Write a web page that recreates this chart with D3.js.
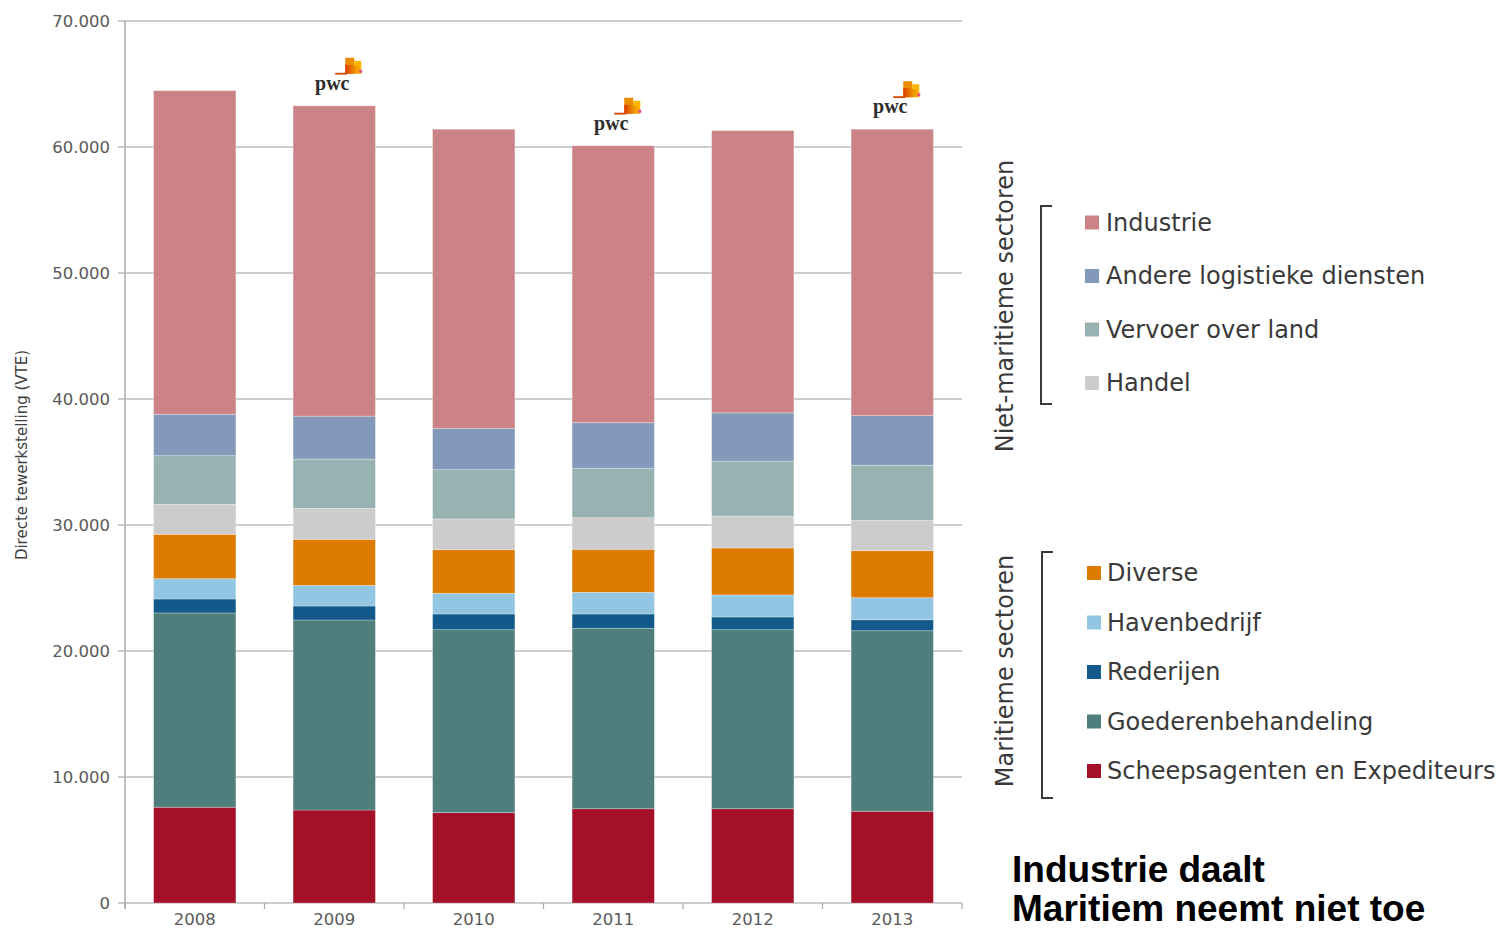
<!DOCTYPE html>
<html>
<head>
<meta charset="utf-8">
<script src="https://cdn.jsdelivr.net/npm/d3@7"></script>
<style>
  html, body { margin: 0; padding: 0; background: #ffffff; }
  svg { display: block; }
</style>
</head>
<body>
<svg id="chart" width="1505" height="929"></svg>
<script>
// ---------- DATA ----------
const years = ["2008", "2009", "2010", "2011", "2012", "2013"];
const scheepsagenten      = [7600, 7380, 7170, 7480, 7480, 7280];
const goederenbehandeling = [15420, 15080, 14520, 14320, 14210, 14330];
const rederijen           = [1110, 1110, 1250, 1140, 1010, 870];
const havenbedrijf        = [1610, 1640, 1640, 1720, 1750, 1750];
const diverse             = [3520, 3650, 3460, 3410, 3730, 3730];
const handel              = [2380, 2460, 2440, 2510, 2520, 2410];
const vervoerOverLand     = [3860, 3910, 3910, 3920, 4370, 4370];
const andereLogistiek     = [3290, 3410, 3290, 3620, 3830, 3940];
const industrie           = [25680, 24630, 23730, 21980, 22400, 22730];

const yTicks = [0, 10000, 20000, 30000, 40000, 50000, 60000, 70000];
const yTickLabels = ["0", "10.000", "20.000", "30.000", "40.000", "50.000", "60.000", "70.000"];

// series, bottom to top of stack
const seriesNames = ["Scheepsagenten en Expediteurs", "Goederenbehandeling", "Rederijen", "Havenbedrijf",
                     "Diverse", "Handel", "Vervoer over land", "Andere logistieke diensten", "Industrie"];
const seriesValues = [scheepsagenten, goederenbehandeling, rederijen, havenbedrijf,
                      diverse, handel, vervoerOverLand, andereLogistiek, industrie];
const seriesColors = ["#a31028", "#4e7f7c", "#135a8a", "#92c6e2",
                      "#dc7b00", "#cccccc", "#98b2b1", "#8499b9", "#cc8387"];

const nonMaritimeLegend = ["Industrie", "Andere logistieke diensten", "Vervoer over land", "Handel"];
const maritimeLegend = ["Diverse", "Havenbedrijf", "Rederijen", "Goederenbehandeling", "Scheepsagenten en Expediteurs"];
const pwcYears = ["2009", "2011", "2013"];

const yAxisTitle = "Directe tewerkstelling (VTE)";
const groupLabels = ["Niet-maritieme sectoren", "Maritieme sectoren"];
const headline = ["Industrie daalt", "Maritiem neemt niet toe"];

// ---------- BUILD ----------
const table = years.map((yr, i) => {
  const row = { year: yr };
  seriesNames.forEach((n, k) => row[n] = seriesValues[k][i]);
  return row;
});
const stacked = d3.stack().keys(seriesNames)(table);
const colorOf = d3.scaleOrdinal().domain(seriesNames).range(seriesColors);

const svg = d3.select("#chart");
const plotLeft = 125, plotRight = 962, plotTop = 21, plotBottom = 903;

const x = d3.scaleBand().domain(years).range([plotLeft, plotRight]).paddingInner(0.41).paddingOuter(0.205);
const y = d3.scaleLinear().domain([0, 70000]).range([plotBottom, plotTop]);

const tickFont = "DejaVu Sans, sans-serif";

// gridlines
svg.append("g").selectAll("line").data(yTicks).join("line")
  .attr("x1", plotLeft - 7).attr("x2", plotRight)
  .attr("y1", d => y(d)).attr("y2", d => y(d))
  .attr("stroke", "#bdbdbd").attr("stroke-width", 1.5);

// y axis line
svg.append("line").attr("x1", plotLeft).attr("x2", plotLeft).attr("y1", y(70000)).attr("y2", y(0) + 6)
  .attr("stroke", "#aaaaaa").attr("stroke-width", 1.5);

// y tick labels
svg.append("g").selectAll("text").data(yTicks).join("text")
  .attr("x", plotLeft - 15).attr("y", d => y(d))
  .attr("text-anchor", "end").attr("dominant-baseline", "central")
  .attr("font-family", tickFont).attr("font-size", 16.5).attr("fill", "#595959")
  .text((d, i) => yTickLabels[i]);

// x axis ticks at band boundaries
const step = x.step();
const boundaries = d3.range(years.length + 1).map(i => plotLeft + i * step);
svg.append("g").selectAll("line").data(boundaries).join("line")
  .attr("x1", d => d).attr("x2", d => d).attr("y1", y(0)).attr("y2", y(0) + 6)
  .attr("stroke", "#aaaaaa").attr("stroke-width", 1.2);

// x labels
svg.append("g").selectAll("text").data(years).join("text")
  .attr("x", d => x(d) + x.bandwidth() / 2).attr("y", 925)
  .attr("text-anchor", "middle")
  .attr("font-family", tickFont).attr("font-size", 16.5).attr("fill", "#595959")
  .text(d => d);

// bars
svg.append("g").selectAll("g").data(stacked).join("g")
  .attr("fill", d => colorOf(d.key))
  .selectAll("rect").data(d => d).join("rect")
  .attr("x", d => x(d.data.year))
  .attr("width", x.bandwidth())
  .attr("y", d => y(d[1]))
  .attr("height", d => y(d[0]) - y(d[1]))
  .attr("stroke", "#ffffff").attr("stroke-opacity", 0.35).attr("stroke-width", 0.8);

// y axis title
svg.append("text")
  .attr("transform", `translate(27,455) rotate(-90)`)
  .attr("text-anchor", "middle")
  .attr("font-family", tickFont).attr("font-size", 15).attr("fill", "#404040")
  .text(yAxisTitle);

// pwc logos
const totals = years.map((yr, i) => d3.sum(seriesValues, s => s[i]));
const grad = svg.append("defs").append("linearGradient").attr("id", "pwcGrad")
  .attr("x1", "0").attr("x2", "1").attr("y1", "0").attr("y2", "0");
grad.append("stop").attr("offset", "0%").attr("stop-color", "#d93a00");
grad.append("stop").attr("offset", "55%").attr("stop-color", "#eb8c00");
grad.append("stop").attr("offset", "100%").attr("stop-color", "#ffb600");

pwcYears.forEach(yr => {
  const i = years.indexOf(yr);
  const cx = x(yr) + x.bandwidth() / 2;
  const by = y(totals[i]) - 16;
  const g = svg.append("g").attr("transform", `translate(${cx},${by})`);
  g.append("text").attr("x", -2).attr("y", 0).attr("text-anchor", "middle")
    .attr("font-family", "Liberation Serif, serif").attr("font-weight", "bold")
    .attr("font-size", 20).attr("fill", "#2d2d2d").text("pwc");
  g.append("rect").attr("x", 1).attr("y", -17).attr("width", 12).attr("height", 1.8).attr("fill", "#d04a02");
  g.append("rect").attr("x", 11).attr("y", -32).attr("width", 9).attr("height", 16).attr("fill", "#eb8c00");
  g.append("rect").attr("x", 11).attr("y", -25).attr("width", 16).attr("height", 9).attr("fill", "url(#pwcGrad)");
  g.append("rect").attr("x", 20).attr("y", -29).attr("width", 7).attr("height", 5).attr("fill", "#ffb600");
  g.append("rect").attr("x", 25).attr("y", -20).attr("width", 3).attr("height", 3).attr("fill", "#e8508a");
});

// legend
const legFont = "DejaVu Sans, sans-serif";
function legendGroup(items, startY, stepY, sqX, txtX, brTop, brBottom, brX, label, labelCenterY) {
  const g = svg.append("g");
  items.forEach((name, i) => {
    const cy = startY + i * stepY;
    g.append("rect").attr("x", sqX).attr("y", cy - 7).attr("width", 14).attr("height", 14)
      .attr("fill", colorOf(name));
    g.append("text").attr("x", txtX).attr("y", cy).attr("dominant-baseline", "central")
      .attr("font-family", legFont).attr("font-size", 24).attr("fill", "#3a3a3a").text(name);
  });
  g.append("path")
    .attr("d", `M${brX + 11},${brTop} H${brX} V${brBottom} H${brX + 11}`)
    .attr("fill", "none").attr("stroke", "#3a3a3a").attr("stroke-width", 2);
  g.append("text")
    .attr("transform", `translate(1013,${labelCenterY}) rotate(-90)`)
    .attr("text-anchor", "middle")
    .attr("font-family", legFont).attr("font-size", 24).attr("fill", "#3a3a3a")
    .text(label);
}
legendGroup(nonMaritimeLegend, 222.5, 53.5, 1085, 1106, 206, 404, 1041, groupLabels[0], 306);
legendGroup(maritimeLegend, 573, 49.5, 1087, 1107, 552, 798, 1042, groupLabels[1], 671);

// headline
svg.append("g").selectAll("text").data(headline).join("text")
  .attr("x", 1012).attr("y", (d, i) => 882 + i * 39)
  .attr("font-family", "Liberation Sans, Arial, sans-serif").attr("font-weight", "bold")
  .attr("font-size", 37).attr("fill", "#000000")
  .text(d => d);
</script>
</body>
</html>
